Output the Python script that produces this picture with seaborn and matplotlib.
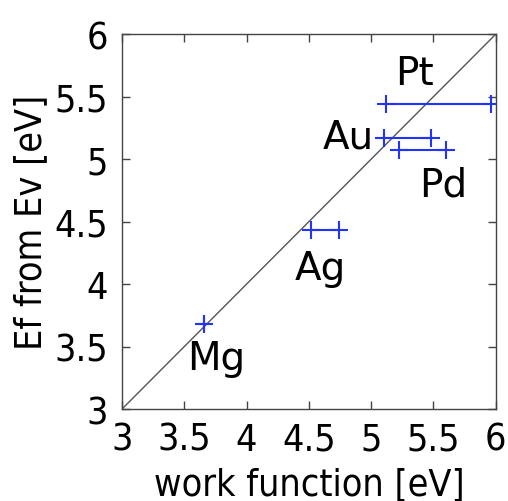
"""Work function vs Fermi level position for several metals."""
import matplotlib
matplotlib.use("Agg")
import matplotlib.pyplot as plt
import pandas as pd
import seaborn as sns

# measured work function range (low, high) and Ef from Ev per metal
metals = ["Pt", "Au", "Pd", "Ag", "Mg"]
wf_low = [5.12, 5.10, 5.22, 4.52, 3.66]
wf_high = [5.96, 5.48, 5.60, 4.74, 3.66]
ef_ev = [5.44, 5.17, 5.07, 4.43, 3.68]

label_pos = {"Pt": (5.35, 5.69), "Au": (4.82, 5.18), "Pd": (5.58, 4.8),
             "Ag": (4.59, 4.13), "Mg": (3.76, 3.41)}

ticks = [3, 3.5, 4, 4.5, 5, 5.5, 6]

sns.set_theme(style="ticks")
plt.rcParams["font.family"] = ["DejaVu Sans"]
plt.rcParams["text.color"] = "black"
plt.rcParams["axes.labelcolor"] = "black"
plt.rcParams["xtick.color"] = "#444444"
plt.rcParams["ytick.color"] = "#444444"
plt.rcParams["xtick.labelcolor"] = "black"
plt.rcParams["ytick.labelcolor"] = "black"

rows = []
for m, lo, hi, y in zip(metals, wf_low, wf_high, ef_ev):
    rows.append({"metal": m, "wf": lo, "ef": y})
    rows.append({"metal": m, "wf": hi, "ef": y})
df = pd.DataFrame(rows)

blue = "#2233ff"
fig = plt.figure(figsize=(5.08, 5.02), dpi=100)
ax = fig.add_axes([0.240, 0.183, 0.736, 0.747])

ax.plot([3, 6], [3, 6], color="#555555", lw=1.0)
sns.lineplot(data=df, x="wf", y="ef", units="metal", estimator=None,
             color=blue, lw=1.5, marker="+", markersize=13,
             markeredgewidth=1.5, markeredgecolor=blue, sort=False, ax=ax)

for m, (tx, ty) in label_pos.items():
    ax.text(tx, ty, m, fontsize=28, ha="center", va="center",
            fontstretch="normal")

cond = dict(fontstretch="condensed", fontsize=27)
ax.set_xlim(3, 6)
ax.set_ylim(3, 6)
ax.set_xticks(ticks)
ax.set_yticks(ticks)
ax.set_xticklabels([f"{t:g}" for t in ticks], **cond)
ax.set_yticklabels([f"{t:g}" for t in ticks], **cond)
ax.tick_params(direction="in", length=6, width=1, top=True, right=True)
ax.tick_params(axis="x", pad=9)
ax.tick_params(axis="y", pad=10)
for s in ax.spines.values():
    s.set_color("#444444")
    s.set_linewidth(1.0)
ax.set_xlabel("work function [eV]", labelpad=6, **cond)
ax.set_ylabel("Ef from Ev [eV]", labelpad=4, **cond)

fig.savefig("out.png", dpi=100)
